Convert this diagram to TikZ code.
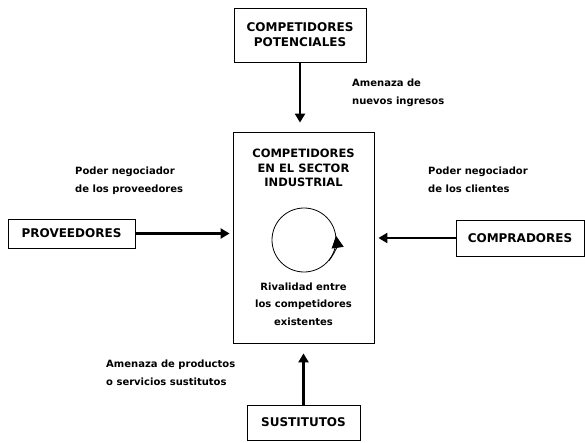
\documentclass[tikz,border=0pt]{standalone}
\usepackage{fontspec}
\setmainfont{DejaVu Sans}
\usetikzlibrary{arrows.meta}

\tikzstyle{box} = [rectangle, draw, line width=0.8pt, align=center, inner sep=0pt, font=\bfseries\fontsize{12}{15}\selectfont]
\tikzstyle{note} = [align=left, inner sep=0pt, anchor=north west, font=\bfseries\fontsize{10}{18}\selectfont]
\tikzstyle{forcearrow} = [line width=2.8pt, -{Triangle[length=9pt,width=10pt]}]

\begin{document}
\begin{tikzpicture}[x=1pt,y=1pt]
        \useasboundingbox (0,0) rectangle (585,442);
        % the five forces around the sector
        \node (pot) at (300,407) [box, minimum width=132pt, minimum height=54pt] {COMPETIDORES\\POTENCIALES};
        \node (sector) at (303.5,204.5) [box, minimum width=141pt, minimum height=211pt] {};
        \node (prov) at (71.5,208.5) [box, minimum width=127pt, minimum height=29pt] {PROVEEDORES};
        \node (comp) at (520,204) [box, minimum width=128pt, minimum height=36pt] {COMPRADORES};
        \node (sust) at (303.5,19.5) [box, minimum width=113pt, minimum height=35pt] {SUSTITUTOS};

        \node (titulo) at (303.5,274) [align=center, font=\bfseries\fontsize{11.5}{14.5}\selectfont] {COMPETIDORES\\EN EL SECTOR\\INDUSTRIAL};
        \node (giro) at (304,202) [circle, draw, line width=0.8pt, minimum size=64pt, inner sep=0pt] {};
        \draw[line width=0.8pt, -{Triangle[length=12pt,width=12pt]}] (giro.-40) arc[start angle=-40, end angle=8, radius=32pt];
        \node (rival) at (303.5,138) [align=center, font=\bfseries\fontsize{10}{17.5}\selectfont] {Rivalidad entre\\los competidores\\existentes};

        \node (nuevos) at (352,363) [note] {Amenaza de\\nuevos ingresos};
        \node (negprov) at (75,275) [note] {Poder negociador\\de los proveedores};
        \node (negcli) at (428,275) [note] {Poder negociador\\de los clientes};
        \node (sustit) at (106,82) [note] {Amenaza de productos\\o servicios sustitutos};

        \draw[forcearrow, shorten >=9pt] (pot.south) -- (pot.south |- sector.north);
        \draw[forcearrow, shorten >=3pt] (prov.east) -- (prov.east -| sector.west);
        \draw[forcearrow, shorten >=4pt] (comp.west) -- (comp.west -| sector.east);
        \draw[forcearrow, shorten >=10pt] (sust.north) -- (sust.north |- sector.south);
    \end{tikzpicture}
\end{document}
